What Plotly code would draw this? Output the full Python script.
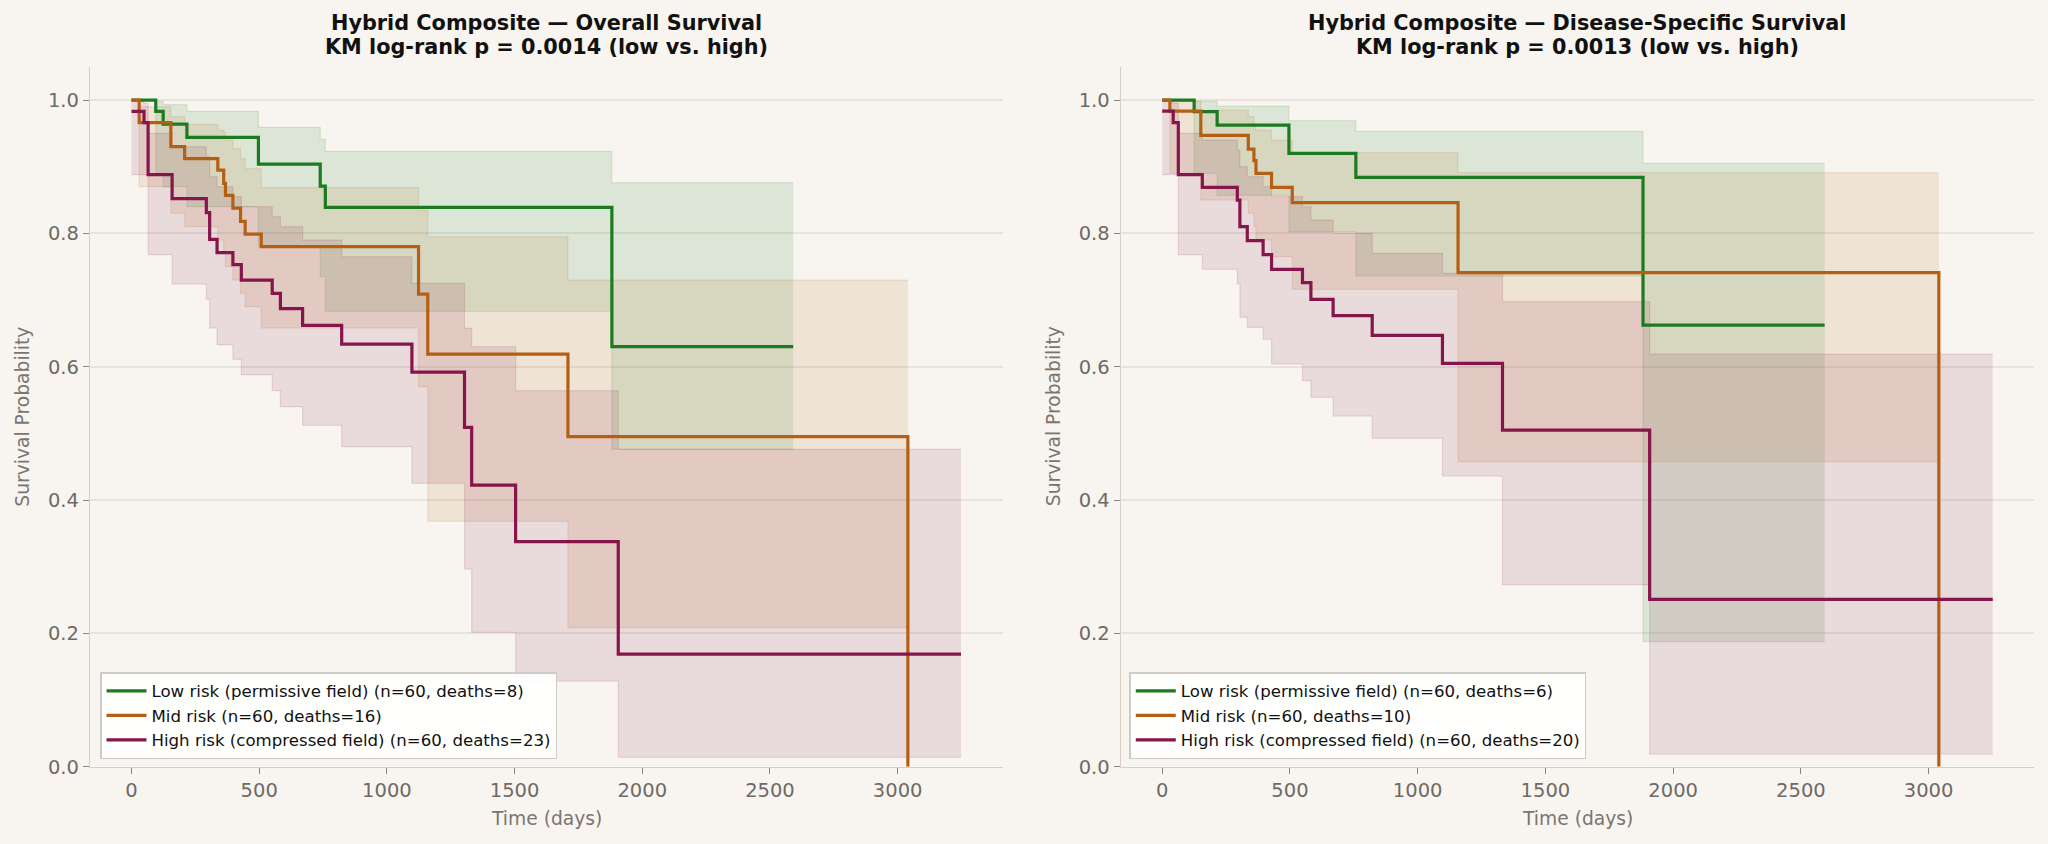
import plotly.graph_objects as go

# ---------------- data ----------------
# Overall Survival (left panel)
os_low_t = [0, 95, 124, 217, 497, 739, 759, 1881, 2591]
os_low_s = [1.0, 0.983, 0.964, 0.944, 0.904, 0.871, 0.839, 0.630, 0.630]
os_low_hi = [1.0, 0.998, 0.993, 0.983, 0.959, 0.941, 0.923, 0.876, 0.876]
os_low_lo = [1.0, 0.89, 0.87, 0.84, 0.78, 0.735, 0.683, 0.476, 0.476]

os_mid_t = [0, 30, 154, 208, 338, 361, 368, 397, 427, 445, 508, 1124, 1160, 1709, 3040]
os_mid_s = [1.0, 0.966, 0.930, 0.912, 0.895, 0.875, 0.857, 0.838, 0.818, 0.799, 0.780, 0.709, 0.619, 0.495, 0.0]
os_mid_hi = [1.0, 0.99, 0.975, 0.9635, 0.955, 0.952, 0.94, 0.927, 0.912, 0.897, 0.8685, 0.835, 0.795, 0.73, 0.73]
os_mid_lo = [1.0, 0.87, 0.83, 0.81, 0.79, 0.77, 0.75, 0.73, 0.71, 0.69, 0.658, 0.57, 0.368, 0.2085, 0.2085]

os_high_t = [0, 49, 65, 159, 293, 306, 335, 397, 430, 551, 583, 670, 823, 1098, 1304, 1332, 1504, 1906, 3248]
os_high_s = [0.983, 0.966, 0.888, 0.852, 0.831, 0.791, 0.771, 0.753, 0.730, 0.710, 0.687, 0.662, 0.634, 0.592,
             0.509, 0.4225, 0.3375, 0.169, 0.169]
os_high_hi = [0.998, 0.995, 0.95, 0.93, 0.915, 0.885, 0.87, 0.855, 0.84, 0.825, 0.81, 0.79, 0.765, 0.725,
              0.6575, 0.63, 0.564, 0.476, 0.476]
os_high_lo = [0.888, 0.888, 0.768, 0.724, 0.701, 0.658, 0.633, 0.611, 0.588, 0.564, 0.540, 0.512, 0.480, 0.425,
              0.2965, 0.2015, 0.1285, 0.014, 0.014]

# Disease-Specific Survival (right panel)
dss_low_t = [0, 125, 215, 496, 758, 1882, 2593]
dss_low_s = [1.0, 0.9825, 0.9625, 0.920, 0.884, 0.6625, 0.6625]
dss_low_hi = [1.0, 0.998, 0.991, 0.969, 0.953, 0.905, 0.905]
dss_low_lo = [1.0, 0.89, 0.857, 0.8025, 0.736, 0.1875, 0.1875]

dss_mid_t = [0, 30, 151, 337, 359, 367, 428, 509, 1158, 3040]
dss_mid_s = [1.0, 0.9835, 0.947, 0.9265, 0.909, 0.890, 0.869, 0.846, 0.741, 0.0]
dss_mid_hi = [1.0, 0.998, 0.985, 0.975, 0.965, 0.955, 0.94, 0.921, 0.891, 0.891]
dss_mid_lo = [1.0, 0.89, 0.85, 0.83, 0.81, 0.79, 0.765, 0.716, 0.4575, 0.4575]

dss_high_t = [0, 43, 63, 157, 294, 304, 333, 395, 428, 549, 582, 669, 822, 1097, 1332, 1908, 3251]
dss_high_s = [0.9835, 0.966, 0.888, 0.869, 0.850, 0.810, 0.789, 0.768, 0.746, 0.726, 0.701, 0.6765, 0.647,
              0.605, 0.505, 0.251, 0.251]
dss_high_hi = [0.998, 0.995, 0.95, 0.94, 0.925, 0.90, 0.885, 0.87, 0.855, 0.84, 0.82, 0.80, 0.77, 0.74,
               0.6975, 0.619, 0.619]
dss_high_lo = [0.888, 0.888, 0.768, 0.746, 0.724, 0.674, 0.659, 0.641, 0.604, 0.579, 0.554, 0.526, 0.4925,
               0.436, 0.273, 0.019, 0.019]

os_labels = ["Low risk (permissive field) (n=60, deaths=8)",
             "Mid risk (n=60, deaths=16)",
             "High risk (compressed field) (n=60, deaths=23)"]
dss_labels = ["Low risk (permissive field) (n=60, deaths=6)",
              "Mid risk (n=60, deaths=10)",
              "High risk (compressed field) (n=60, deaths=20)"]
titles = [("Hybrid Composite \u2014 Overall Survival", "KM log-rank p = 0.0014 (low vs. high)"),
          ("Hybrid Composite \u2014 Disease-Specific Survival", "KM log-rank p = 0.0013 (low vs. high)")]
x_title = "Time (days)"
y_title = "Survival Probability"
x_ticks = [0, 500, 1000, 1500, 2000, 2500, 3000]
y_ticks = [0.0, 0.2, 0.4, 0.6, 0.8, 1.0]

# ---------------- styling ----------------
BG = "#f8f5f0"
COLORS = ["#1c7a20", "#b55f14", "#86154b"]
FONT = "DejaVu Sans"
W, H = 2048, 844


def rgba(hx, a):
    hx = hx.lstrip("#")
    r, g, b = int(hx[0:2], 16), int(hx[2:4], 16), int(hx[4:6], 16)
    return f"rgba({r},{g},{b},{a})"


panels = [
    dict(xa="x", ya="y", legend="legend", labels=os_labels,
         groups=[(os_low_t, os_low_s, os_low_hi, os_low_lo),
                 (os_mid_t, os_mid_s, os_mid_hi, os_mid_lo),
                 (os_high_t, os_high_s, os_high_hi, os_high_lo)]),
    dict(xa="x2", ya="y2", legend="legend2", labels=dss_labels,
         groups=[(dss_low_t, dss_low_s, dss_low_hi, dss_low_lo),
                 (dss_mid_t, dss_mid_s, dss_mid_hi, dss_mid_lo),
                 (dss_high_t, dss_high_s, dss_high_hi, dss_high_lo)]),
]

fig = go.Figure()
for p in panels:
    # confidence bands first
    for (t, s, hi, lo), c in zip(p["groups"], COLORS):
        fig.add_trace(go.Scatter(x=t, y=hi, mode="lines", xaxis=p["xa"], yaxis=p["ya"],
                                 line=dict(shape="hv", color=rgba(c, 0.13), width=1.2),
                                 showlegend=False, hoverinfo="skip"))
        fig.add_trace(go.Scatter(x=t, y=lo, mode="lines", xaxis=p["xa"], yaxis=p["ya"],
                                 line=dict(shape="hv", color=rgba(c, 0.13), width=1.2),
                                 fill="tonexty", fillcolor=rgba(c, 0.12),
                                 showlegend=False, hoverinfo="skip"))
    for (t, s, hi, lo), c, name in zip(p["groups"], COLORS, p["labels"]):
        fig.add_trace(go.Scatter(x=t, y=s, mode="lines", xaxis=p["xa"], yaxis=p["ya"],
                                 line=dict(shape="hv", color=c, width=3.2),
                                 name=name, legend=p["legend"]))

axis_common = dict(showline=True, linecolor="#d8cec6", linewidth=1.3, ticks="outside", ticklen=6,
                   tickwidth=1.2, tickcolor="#8a8580", zeroline=False, automargin=False,
                   tickfont=dict(family=FONT, size=19.5, color="#6e6a66"))

x_dom = [[90 / W, 1003 / W], [1120.7 / W, 2034 / W]]
y_dom = [(H - 766.7) / H, (H - 66.7) / H]

layout = dict(width=W, height=H, margin=dict(l=0, r=0, t=0, b=0, autoexpand=False),
              paper_bgcolor=BG, plot_bgcolor=BG, font=dict(family=FONT))
for i, (xn, yn, xa, ya) in enumerate([("xaxis", "yaxis", "x", "y"), ("xaxis2", "yaxis2", "x2", "y2")]):
    layout[xn] = dict(axis_common, domain=x_dom[i], range=[-162.5, 3412.5], anchor=ya,
                      tickvals=x_ticks, showgrid=False)
    layout[yn] = dict(axis_common, domain=y_dom, range=[0, 1.05], anchor=xa,
                      tickvals=y_ticks, ticktext=[f"{v:.1f}" for v in y_ticks],
                      showgrid=True, gridcolor="#e8e3dc", gridwidth=1.5)

legend_common = dict(bgcolor="rgba(255,255,255,0.92)", bordercolor="#cfcbc7", borderwidth=1.5,
                     font=dict(family=FONT, size=16.6, color="#111111"), traceorder="normal",
                     itemwidth=40, xanchor="left", yanchor="bottom", tracegroupgap=0)
layout["legend"] = dict(legend_common, x=100 / W, y=(H - 759) / H)
layout["legend2"] = dict(legend_common, x=1129.3 / W, y=(H - 759) / H)

annotations = []
title_font = dict(family=FONT, size=20.8, color="#111111")
label_font = dict(family=FONT, size=18.7, color="#7a7570")
for i, (l1, l2) in enumerate(titles):
    cx = (x_dom[i][0] + x_dom[i][1]) / 2
    annotations.append(dict(text=f"<b>{l1}</b>", x=cx, y=1 - 23 / H, xref="paper", yref="paper",
                            xanchor="center", yanchor="middle", showarrow=False, font=title_font))
    annotations.append(dict(text=f"<b>{l2}</b>", x=cx, y=1 - 47 / H, xref="paper", yref="paper",
                            xanchor="center", yanchor="middle", showarrow=False, font=title_font))
    annotations.append(dict(text=x_title, x=cx, y=1 - 818 / H, xref="paper", yref="paper",
                            xanchor="center", yanchor="middle", showarrow=False, font=label_font))
    ylab_x = [23, 1053.5][i]
    annotations.append(dict(text=y_title, x=ylab_x / W, y=1 - 416.7 / H, xref="paper", yref="paper",
                            xanchor="center", yanchor="middle", showarrow=False, textangle=-90,
                            font=label_font))
layout["annotations"] = annotations

fig.update_layout(**layout)
fig.write_html("out.html")
